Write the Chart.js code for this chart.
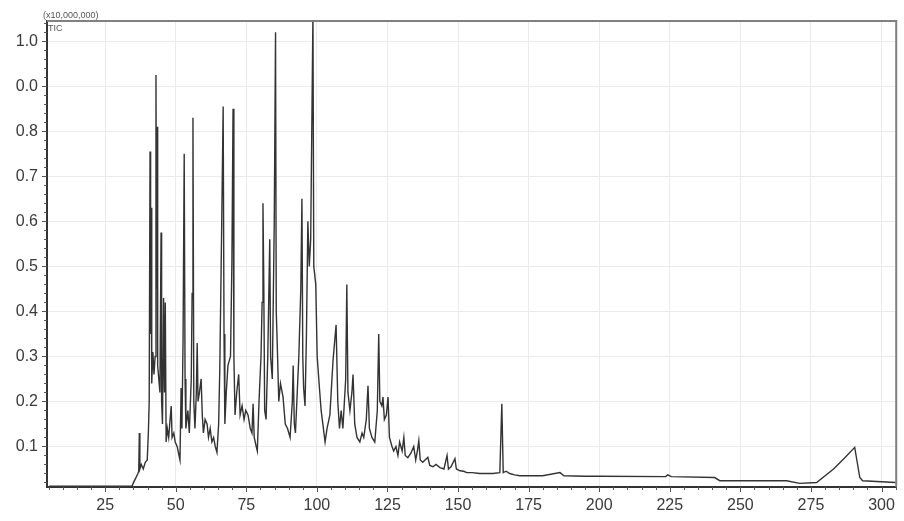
<!DOCTYPE html>
<html>
<head>
<meta charset="utf-8">
<title>TIC chromatogram</title>
<script src="https://cdn.jsdelivr.net/npm/chart.js@4.4.1/dist/chart.umd.min.js"></script>
<style>
    html, body { margin: 0; padding: 0; background: #ffffff; }
    #wrap { width: 904px; height: 521px; }
</style>
</head>
<body>
<div id="wrap"><canvas id="tic-chart" width="904" height="521"></canvas></div>
<script>
// Readings taken off the trace: retention position and intensity (x10,000,000)
const retention = [
    5.2, 34.5, 35.2, 36.0, 36.6, 36.9, 37.1, 37.3, 37.8, 38.5,
    39.2, 39.9, 40.3, 40.6, 40.9, 41.1, 41.3, 41.5, 41.9, 42.3,
    42.7, 43.0, 43.2, 43.4, 43.6, 44.0, 44.4, 44.8, 45.0, 45.3,
    45.7, 46.0, 46.3, 46.6, 47.0, 47.5, 48.0, 48.4, 48.7, 49.3,
    49.8, 50.5, 51.0, 51.5, 51.9, 52.2, 52.6, 53.0, 53.3, 53.6,
    54.3, 54.8, 55.5, 55.8, 56.1, 56.4, 56.8, 57.3, 57.6, 57.9,
    58.4, 59.0, 59.4, 59.8, 60.4, 61.1, 61.6, 62.2, 62.8, 63.4,
    64.0, 64.6, 65.2, 65.6, 66.3, 66.8, 67.1, 67.4, 67.9, 68.5,
    69.4, 69.9, 70.3, 70.6, 71.0, 71.6, 72.3, 72.8, 73.5, 74.2,
    74.8, 75.6, 76.4, 77.0, 77.4, 77.8, 78.5, 78.9, 79.5, 80.2,
    80.6, 80.9, 81.2, 81.5, 82.0, 82.6, 83.3, 83.6, 84.2, 84.9, 85.35, 85.6,
    85.9, 86.5, 87.1, 88.0, 88.8, 89.6, 90.5, 91.3, 91.6, 92.0,
    92.4, 92.9, 93.6, 94.3, 94.7, 95.0, 95.3, 95.8, 96.3, 96.8,
    97.3, 97.8, 98.6, 98.9, 99.6, 100.1, 100.9, 101.5, 102.9, 103.6,
    104.6, 105.7, 106.8, 107.4, 108.0, 108.6, 109.2, 110.2, 110.6, 111.0,
    111.7, 112.4, 112.8, 113.4, 114.2, 115.2, 116.0, 116.6, 117.5, 118.1,
    118.6, 119.5, 120.5, 121.4, 121.9, 122.3, 123.0, 123.4, 123.9, 124.6,
    125.2, 125.7, 126.6, 127.2, 128.0, 128.7, 129.3, 130.2, 130.8, 131.3,
    132.2, 133.3, 134.3, 135.0, 135.6, 136.1, 136.6, 137.5, 138.3, 139.3,
    140.0, 141.1, 142.2, 143.6, 145.0, 146.1, 146.6, 147.5, 148.9, 149.4,
    150.7, 152.0, 153.1, 155.0, 157.7, 160.0, 162.3, 164.8, 165.5, 166.0,
    167.0, 168.3, 170.0, 171.9, 180.0, 186.1, 187.5, 195.0, 200.2, 223.5,
    224.3, 225.5, 240.9, 242.7, 266.4, 271.0, 277.0, 283.0, 287.0, 290.5,
    292.3, 293.3, 305.0
];
const intensity = [
    0.012, 0.012, 0.022, 0.032, 0.04, 0.045, 0.13, 0.05, 0.06, 0.05,
    0.065, 0.07, 0.13, 0.20, 0.755, 0.35, 0.63, 0.24, 0.31, 0.26,
    0.30, 0.925, 0.45, 0.81, 0.28, 0.25, 0.22, 0.575, 0.20, 0.15,
    0.43, 0.22, 0.42, 0.11, 0.14, 0.12, 0.16, 0.19, 0.12, 0.13,
    0.11, 0.10, 0.085, 0.07, 0.23, 0.14, 0.34, 0.75, 0.25, 0.14,
    0.18, 0.13, 0.25, 0.44, 0.83, 0.20, 0.14, 0.22, 0.33, 0.20,
    0.22, 0.25, 0.17, 0.13, 0.16, 0.15, 0.12, 0.14, 0.11, 0.12,
    0.10, 0.087, 0.15, 0.27, 0.60, 0.855, 0.35, 0.15, 0.22, 0.28,
    0.30, 0.51, 0.85, 0.30, 0.17, 0.22, 0.26, 0.17, 0.19, 0.16,
    0.18, 0.17, 0.14, 0.13, 0.195, 0.12, 0.10, 0.09, 0.20, 0.30,
    0.42, 0.64, 0.45, 0.18, 0.16, 0.30, 0.56, 0.30, 0.25, 0.60, 1.02, 0.40,
    0.34, 0.20, 0.24, 0.21, 0.15, 0.14, 0.12, 0.20, 0.28, 0.15,
    0.13, 0.20, 0.30, 0.45, 0.65, 0.30, 0.23, 0.19, 0.35, 0.60,
    0.50, 0.56, 1.06, 0.50, 0.46, 0.30, 0.23, 0.18, 0.11, 0.14,
    0.17, 0.29, 0.37, 0.20, 0.14, 0.18, 0.14, 0.25, 0.46, 0.22,
    0.18, 0.22, 0.26, 0.15, 0.12, 0.11, 0.13, 0.12, 0.16, 0.235,
    0.14, 0.12, 0.11, 0.18, 0.35, 0.20, 0.19, 0.21, 0.16, 0.17,
    0.21, 0.12, 0.10, 0.09, 0.10, 0.08, 0.11, 0.09, 0.12, 0.08,
    0.075, 0.085, 0.10, 0.07, 0.09, 0.113, 0.07, 0.065, 0.07, 0.076,
    0.058, 0.055, 0.06, 0.053, 0.05, 0.08, 0.05, 0.055, 0.073, 0.05,
    0.046, 0.045, 0.042, 0.042, 0.04, 0.04, 0.04, 0.042, 0.195, 0.042,
    0.045, 0.04, 0.037, 0.035, 0.035, 0.042, 0.035, 0.034, 0.034, 0.033,
    0.037, 0.033, 0.031, 0.024, 0.024, 0.018, 0.02, 0.05, 0.075, 0.098,
    0.031, 0.024, 0.02
];

// Tick marks and labels as printed on the axes
const xTickValues = [25, 50, 75, 100, 125, 150, 175, 200, 225, 250, 275, 300];
const yTickValues = [0.1, 0.2, 0.3, 0.4, 0.5, 0.6, 0.7, 0.8, 0.9, 1.0];
const yTickLabels = ['0.1', '0.2', '0.3', '0.4', '0.5', '0.6', '0.7', '0.8', '0.0', '1.0'];

const X_MIN = 4.4;
const X_MAX = 305.2;
const Y_MIN = 0.01;
const Y_MAX = 1.045;

// Frame on top/right, minor tick marks and the small header text
const axisDecor = {
    id: 'axisDecor',
    afterDraw(chart) {
        const { ctx, chartArea: a, scales: { x, y } } = chart;
        ctx.save();

        ctx.strokeStyle = '#808080';
        ctx.lineWidth = 2;
        ctx.beginPath();
        ctx.moveTo(a.left, a.top);
        ctx.lineTo(a.right, a.top);
        ctx.lineTo(a.right, a.bottom);
        ctx.stroke();

        ctx.strokeStyle = '#555';
        ctx.lineWidth = 1;
        ctx.beginPath();
        for (let i = 1; i <= 52; i++) {
            const v = i * 0.02;
            if (v < Y_MIN || v > Y_MAX) continue;
            const py = Math.round(y.getPixelForValue(v)) + 0.5;
            const len = (i % 5 === 0) ? 5 : 3;
            ctx.moveTo(a.left - len, py);
            ctx.lineTo(a.left, py);
        }
        for (let t = 5; t <= X_MAX; t += 5) {
            const px = Math.round(x.getPixelForValue(t)) + 0.5;
            const len = (t % 25 === 0) ? 5 : 3;
            ctx.moveTo(px, a.bottom);
            ctx.lineTo(px, a.bottom + len);
        }
        ctx.stroke();

        ctx.fillStyle = '#555';
        ctx.font = '9px "Liberation Sans", Arial, sans-serif';
        ctx.textBaseline = 'alphabetic';
        ctx.textAlign = 'left';
        ctx.fillText('(x10,000,000)', a.left - 4, a.top - 3);
        ctx.fillText('TIC', a.left + 1, a.top + 10);

        ctx.restore();
    }
};

const ctx = document.getElementById('tic-chart').getContext('2d');

new Chart(ctx, {
    type: 'line',
    data: {
        datasets: [{
            label: 'TIC',
            data: retention.map((t, i) => ({ x: t, y: intensity[i] })),
            borderColor: '#333333',
            borderWidth: 1.4,
            pointRadius: 0,
            tension: 0,
            fill: false
        }]
    },
    options: {
        responsive: false,
        animation: false,
        layout: {
            padding: { left: 0, right: 7, top: 21, bottom: 0 }
        },
        plugins: {
            legend: { display: false },
            tooltip: { enabled: false }
        },
        scales: {
            x: {
                type: 'linear',
                min: X_MIN,
                max: X_MAX,
                afterBuildTicks: scale => {
                    scale.ticks = xTickValues.map(v => ({ value: v }));
                },
                afterFit: scale => { scale.height = 34; },
                grid: {
                    color: '#ebebeb',
                    drawTicks: false
                },
                border: { display: true, color: '#333', width: 2 },
                ticks: {
                    padding: 9,
                    color: '#3a3a3a',
                    font: { family: '"Liberation Sans", Arial, sans-serif', size: 16 },
                    maxRotation: 0,
                    autoSkip: false
                }
            },
            y: {
                type: 'linear',
                min: Y_MIN,
                max: Y_MAX,
                afterBuildTicks: scale => {
                    scale.ticks = yTickValues.map(v => ({ value: v }));
                },
                afterFit: scale => { scale.width = 47; },
                grid: {
                    color: '#ebebeb',
                    drawTicks: false
                },
                border: { display: true, color: '#333', width: 2 },
                ticks: {
                    padding: 9,
                    color: '#3a3a3a',
                    font: { family: '"Liberation Sans", Arial, sans-serif', size: 16 },
                    callback: (value, index) => yTickLabels[index]
                }
            }
        }
    },
    plugins: [axisDecor]
});
</script>
</body>
</html>
